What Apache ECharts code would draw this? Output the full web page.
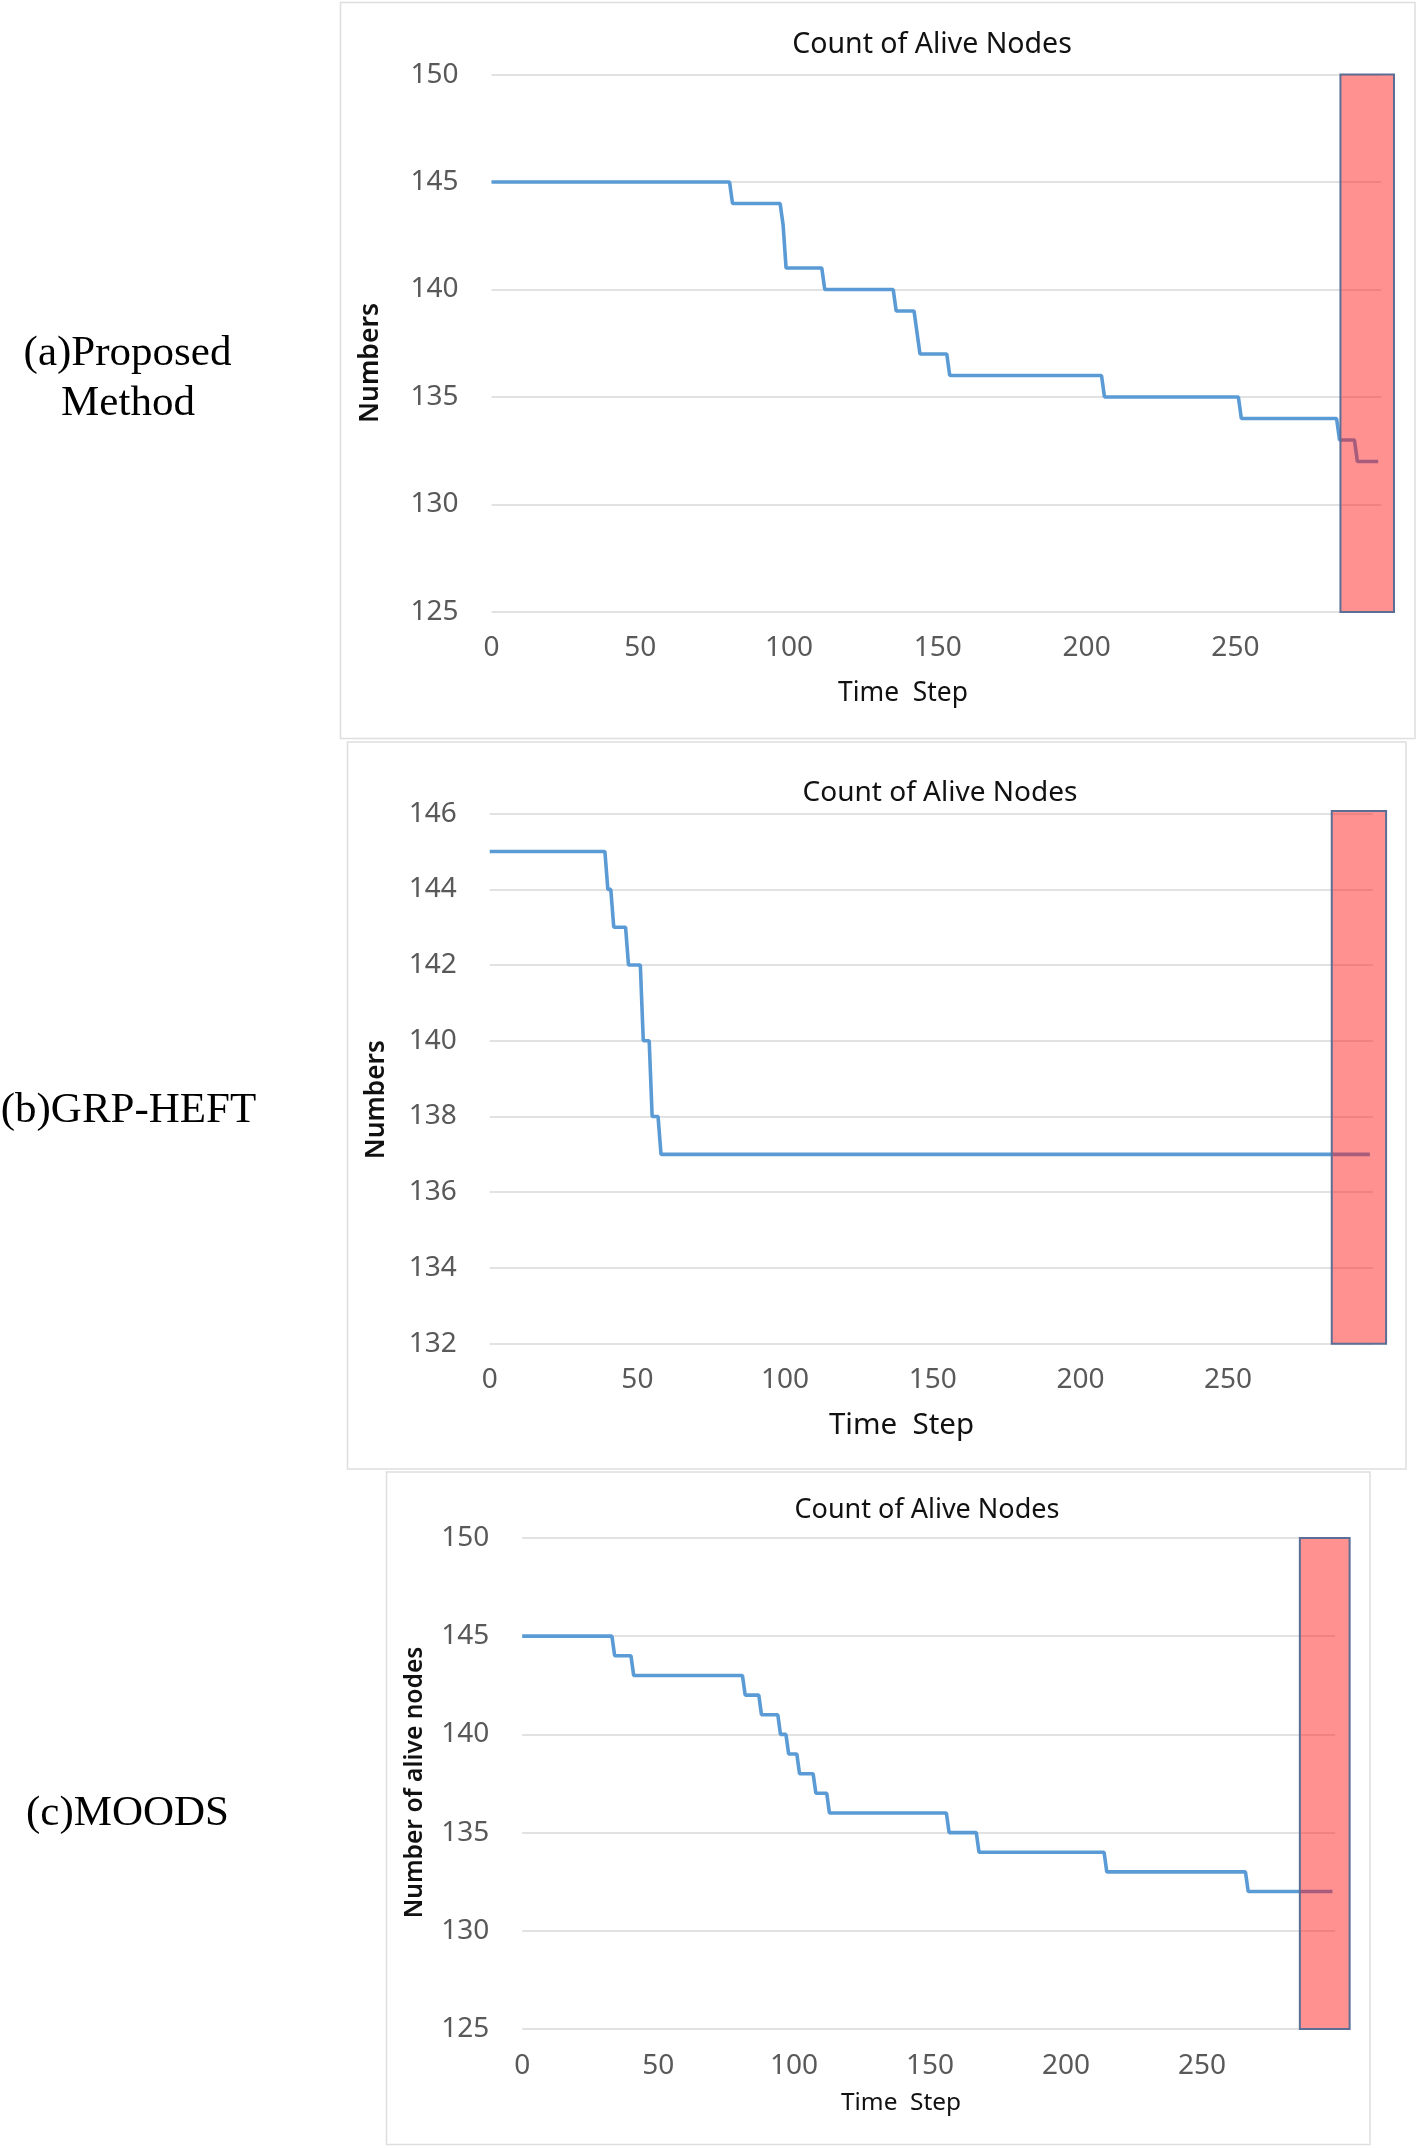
<!DOCTYPE html>
<html>
<head>
<meta charset="utf-8">
<script src="https://cdn.jsdelivr.net/npm/echarts@6/dist/echarts.min.js"></script>
<style>
  html, body { margin: 0; padding: 0; background: #ffffff; }
  #chart { width: 1417px; height: 2148px; }
</style>
</head>
<body>
<div id="chart"></div>
<script>
// ---- Data ----
// (a) Proposed Method: vertices of the step line (time step, alive nodes)
const proposedTime  = [0, 80, 81, 97, 98, 99, 111, 112, 135, 136, 142, 144, 153, 154, 205, 206, 251, 252, 284, 285, 290, 291, 298];
const proposedAlive = [145, 145, 144, 144, 143, 141, 141, 140, 140, 139, 139, 137, 137, 136, 136, 135, 135, 134, 134, 133, 133, 132, 132];

// (b) GRP-HEFT
const grpTime  = [0, 39, 40, 41, 42, 46, 47, 51, 52, 54, 55, 57, 58, 298];
const grpAlive = [145, 145, 144, 144, 143, 143, 142, 142, 140, 140, 138, 138, 137, 137];

// (c) MOODS
const moodsTime  = [0, 33, 34, 40, 41, 81, 82, 87, 88, 94, 95, 97, 98, 101, 102, 107, 108, 112, 113, 156, 157, 167, 168, 214, 215, 266, 267, 298];
const moodsAlive = [145, 145, 144, 144, 143, 143, 142, 142, 141, 141, 140, 140, 139, 139, 138, 138, 137, 137, 136, 136, 135, 135, 134, 134, 133, 133, 132, 132];

// highlighted region [xStart, xEnd, yLow, yHigh]
const highlightA = [285.3, 303.3, 125, 150];
const highlightB = [285.1, 303.5, 132, 146.07];
const highlightC = [286, 304.3, 125, 150];

// axis ranges / ticks
const xRange = [0, 299];
const xInterval = 50;
const yRangeA = [125, 150], yIntervalA = 5;
const yRangeB = [132, 146], yIntervalB = 2;
const yRangeC = [125, 150], yIntervalC = 5;

const chartTitle = 'Count of Alive Nodes';
const xTitle = 'Time  Step';
const yTitles = ['Numbers', 'Numbers', 'Number of alive nodes'];
const panelLabels = [['(a)Proposed', 'Method'], ['(b)GRP-HEFT'], ['(c)MOODS']];

// ---- Chart ----
const zip = (xs, ys) => xs.map((x, i) => [x, ys[i]]);
const FONT = '"Noto Sans", "Open Sans", sans-serif';
const SERIF = '"Liberation Serif", "DejaVu Serif", serif';

const grids = [
  { left: 491.5, top: 74.6,  width: 889.7, height: 537.3 },
  { left: 489.7, top: 813.6, width: 883.1, height: 530.1 },
  { left: 522.2, top: 1537.9, width: 813.0, height: 491.2 }
];
const yRanges = [yRangeA, yRangeB, yRangeC];
const yIntervals = [yIntervalA, yIntervalB, yIntervalC];
const labelMarginsX = [22, 22, 23];

const chart = echarts.init(document.getElementById('chart'), null, { renderer: 'canvas' });

function xAxisDef(i) {
  return {
    type: 'value', gridIndex: i, min: xRange[0], max: xRange[1], interval: xInterval,
    axisLine: { show: false }, axisTick: { show: false }, splitLine: { show: false },
    axisLabel: { color: '#595959', fontSize: 28, fontFamily: FONT, margin: labelMarginsX[i], showMaxLabel: false }
  };
}
function yAxisDef(i) {
  return {
    type: 'value', gridIndex: i, min: yRanges[i][0], max: yRanges[i][1], interval: yIntervals[i],
    axisLine: { show: false }, axisTick: { show: false },
    splitLine: { show: true, lineStyle: { color: '#e2e2e2', width: 2 } },
    axisLabel: { color: '#595959', fontSize: 28, fontFamily: FONT, margin: 33 }
  };
}
function lineSeries(i, data) {
  return {
    type: 'line', xAxisIndex: i, yAxisIndex: i, data: data,
    showSymbol: false, symbol: 'none', z: 2, animation: false,
    lineStyle: { color: '#5B9BD5', width: 3.6 }
  };
}
function rectSeries(i, rect) {
  return {
    type: 'custom', xAxisIndex: i, yAxisIndex: i, z: 5, clip: false, animation: false,
    data: [rect],
    encode: { x: [0, 1], y: [2, 3] },
    renderItem: function (params, api) {
      const p0 = api.coord([api.value(0), api.value(3)]);
      const p1 = api.coord([api.value(1), api.value(2)]);
      return {
        type: 'rect',
        shape: { x: p0[0], y: p0[1], width: p1[0] - p0[0], height: p1[1] - p0[1] },
        style: { fill: 'rgba(255, 22, 22, 0.47)', stroke: '#5a6e96', lineWidth: 2 }
      };
    }
  };
}

const frames = [
  [340.5, 2.5, 1074.5, 736],
  [347.5, 742, 1058.5, 727],
  [386.5, 1472, 983.5, 672.5]
];

const graphics = [];
frames.forEach(f => graphics.push({
  type: 'rect', silent: true, z: -10,
  shape: { x: f[0], y: f[1], width: f[2], height: f[3] },
  style: { fill: '#ffffff', stroke: '#dedede', lineWidth: 1.5 }
}));

// chart titles
[[932, 44.5, 28.5], [940, 793, 28], [927, 1510, 27]].forEach(t => graphics.push({
  type: 'text', x: t[0], y: t[1], z: 10,
  style: { text: chartTitle, font: 'normal ' + t[2] + 'px ' + FONT, fill: '#111111', align: 'center', verticalAlign: 'middle' }
}));
// x axis titles
[[903, 693, 26.4], [901.5, 1426, 29.5], [901, 2103.5, 24.4]].forEach(t => graphics.push({
  type: 'text', x: t[0], y: t[1], z: 10,
  style: { text: xTitle, font: 'normal ' + t[2] + 'px ' + FONT, fill: '#111111', align: 'center', verticalAlign: 'middle' }
}));
// y axis titles (rotated)
[[370, 363, 26.5], [377, 1099.6, 26.3], [414.7, 1782.4, 24.6]].forEach((t, i) => graphics.push({
  type: 'text', x: t[0], y: t[1], rotation: Math.PI / 2, z: 10,
  style: { text: yTitles[i], font: '600 ' + t[2] + 'px ' + FONT, fill: '#111111', align: 'center', verticalAlign: 'middle' }
}));
// panel labels on the left
const labelPos = [[[127.5, 354], [128, 404]], [[128.5, 1111]], [[127.5, 1813.5]]];
panelLabels.forEach((lines, i) => lines.forEach((txt, j) => graphics.push({
  type: 'text', x: labelPos[i][j][0], y: labelPos[i][j][1], z: 10,
  style: { text: txt, font: 'normal 43px ' + SERIF, fill: '#000000', align: 'center', verticalAlign: 'middle' }
})));

chart.setOption({
  animation: false,
  backgroundColor: '#ffffff',
  grid: grids.map(g => Object.assign({ containLabel: false, outerBoundsMode: 'none' }, g)),
  xAxis: [0, 1, 2].map(xAxisDef),
  yAxis: [0, 1, 2].map(yAxisDef),
  series: [
    lineSeries(0, zip(proposedTime, proposedAlive)),
    lineSeries(1, zip(grpTime, grpAlive)),
    lineSeries(2, zip(moodsTime, moodsAlive)),
    rectSeries(0, highlightA),
    rectSeries(1, highlightB),
    rectSeries(2, highlightC)
  ],
  graphic: graphics
});
</script>
</body>
</html>
